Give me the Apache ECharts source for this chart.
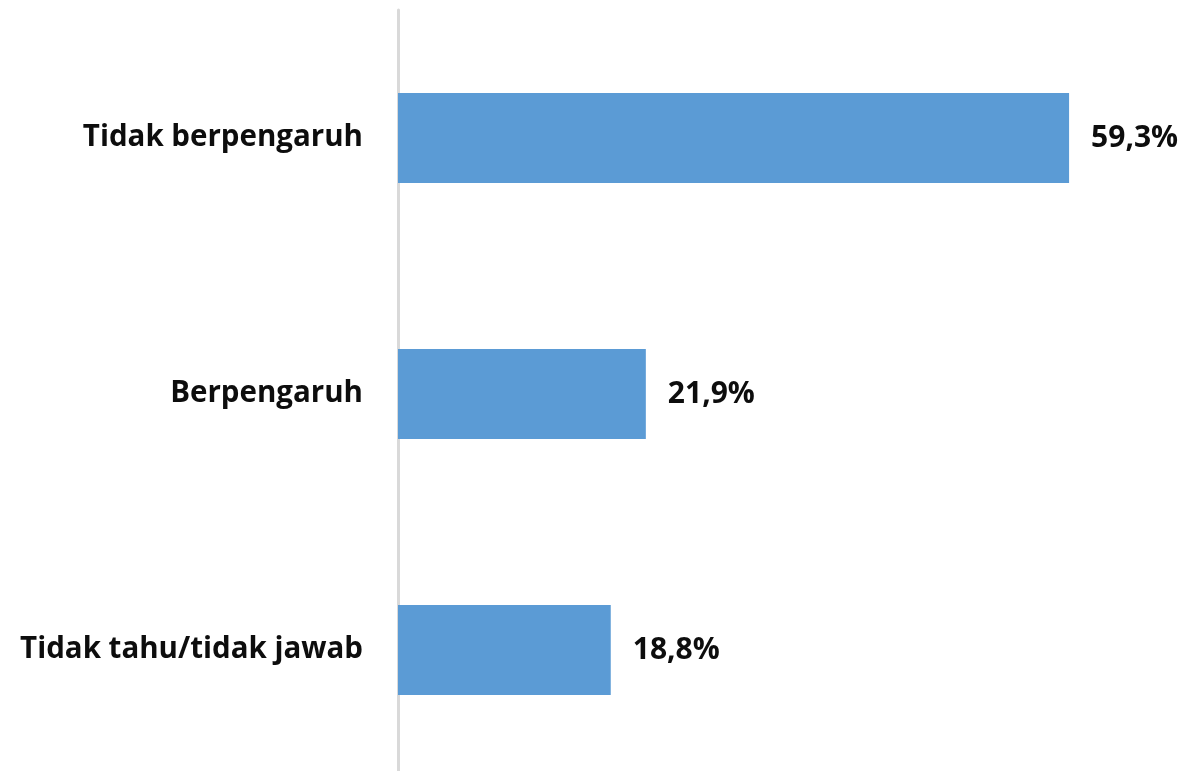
<!DOCTYPE html>
<html>
<head>
<meta charset="utf-8">
<style>
  html, body { margin: 0; padding: 0; background: #fff; }
  #chart { width: 1188px; height: 771px; }
</style>
<script src="https://cdn.jsdelivr.net/npm/echarts@6/dist/echarts.min.js"></script>
</head>
<body>
<div id="chart"></div>
<script>
var categories = ['Tidak berpengaruh', 'Berpengaruh', 'Tidak tahu/tidak jawab'];
var values = [59.3, 21.9, 18.8];

var chart = echarts.init(document.getElementById('chart'));

var option = {
    animation: false,
    grid: {
        left: 398,
        right: 111,
        top: 10,
        height: 768,
        outerBoundsMode: 'none'
    },
    xAxis: {
        type: 'value',
        min: 0,
        max: 60,
        show: false
    },
    yAxis: {
        type: 'category',
        data: categories,
        inverse: true,
        axisLine: { show: true, lineStyle: { color: '#d9d9d9', width: 3 } },
        axisTick: { show: false },
        axisLabel: {
            margin: 35,
            color: '#0d0d0d',
            fontFamily: 'Open Sans',
            fontWeight: 'bold',
            fontSize: 29.5
        }
    },
    series: [
        {
            type: 'bar',
            data: values,
            barWidth: 90,
            itemStyle: { color: '#5b9bd5' },
            label: {
                show: true,
                position: 'right',
                distance: 22,
                color: '#0d0d0d',
                fontFamily: 'Open Sans',
                fontWeight: 'bold',
                fontSize: 30,
                formatter: function (p) {
                    return p.value.toFixed(1).replace('.', ',') + '%';
                }
            }
        }
    ]
};

chart.setOption(option);
</script>
</body>
</html>
